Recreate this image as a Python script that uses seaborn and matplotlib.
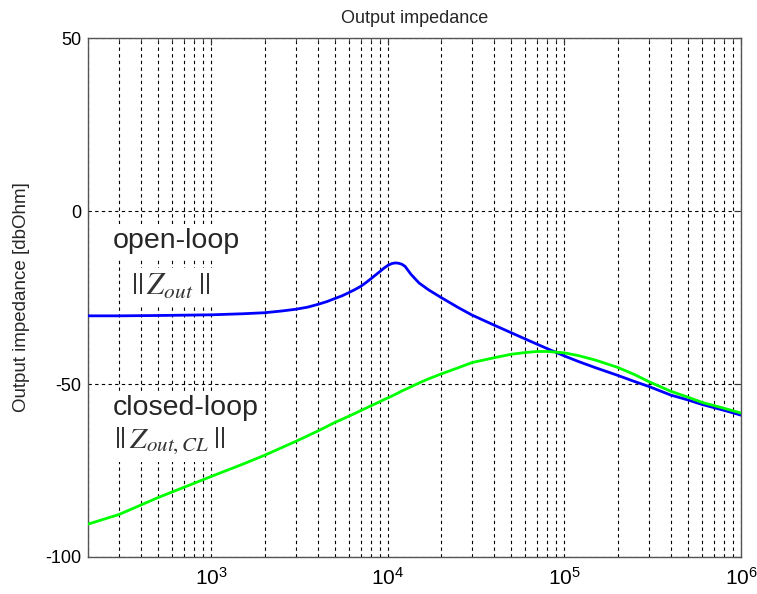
import numpy as np
import pandas as pd
import matplotlib
matplotlib.use('Agg')
import matplotlib.pyplot as plt
import matplotlib.ticker as mticker
import seaborn as sns

# frequency points (Hz)
freq = [200, 300, 500, 1000, 1500, 2000, 2500, 3000, 3500, 4000, 4500, 5000,
        5500, 6000, 6500, 7000, 7500, 8000, 8500, 9000, 9500, 10000, 10500,
        11000, 11500, 12000, 12500, 13500, 15000, 17000, 20000, 25000, 30000,
        40000, 50000, 60000, 70000, 80000, 100000, 120000, 150000, 200000,
        250000, 300000, 400000, 500000, 600000, 800000, 1000000]
open_loop = [-30.3, -30.3, -30.2, -30.0, -29.7, -29.4, -28.9, -28.4, -27.8, -27.0,
             -26.2, -25.3, -24.5, -23.6, -22.7, -21.8, -20.7, -19.6, -18.5, -17.5,
             -16.5, -15.7, -15.2, -15.0, -15.1, -15.4, -16.0, -18.3, -20.8, -22.8,
             -25.0, -27.9, -30.1, -33.0, -35.2, -37.0, -38.5, -39.8, -41.9, -43.5,
             -45.3, -47.5, -49.3, -50.7, -53.2, -54.6, -55.9, -57.6, -59.0]
closed_loop = [-90.5, -87.7, -82.8, -76.7, -73.2, -70.6, -68.4, -66.6, -65.0, -63.6,
               -62.3, -61.1, -60.2, -59.3, -58.5, -57.7, -57.0, -56.3, -55.7, -55.1,
               -54.5, -54.0, -53.5, -53.0, -52.5, -52.0, -51.6, -50.8, -49.7, -48.5,
               -47.1, -45.3, -43.8, -42.4, -41.4, -40.9, -40.6, -40.6, -41.0, -41.8,
               -43.1, -45.2, -47.3, -49.3, -52.1, -53.8, -55.3, -57.0, -58.4]

df = pd.DataFrame({'freq': freq, 'open': open_loop, 'closed': closed_loop})

sns.set_style('white')
plt.rcParams['font.family'] = ['Liberation Sans', 'DejaVu Sans']
plt.rcParams['mathtext.fontset'] = 'stix'
plt.rcParams['axes.unicode_minus'] = False

fig = plt.figure(figsize=(7.57, 5.94), dpi=100)
ax = fig.add_axes([0.1163, 0.0623, 0.8626, 0.8737])

sns.lineplot(data=df, x='freq', y='open', color='#0000ff', lw=2.0, ax=ax, zorder=5)
sns.lineplot(data=df, x='freq', y='closed', color='#00ff00', lw=2.0, ax=ax, zorder=5)

ax.set_xscale('log')
ax.set_xlim(200, 1e6)
ax.set_ylim(-100, 50)
ax.set_yticks([-100, -50, 0, 50])
ax.xaxis.set_major_locator(mticker.LogLocator(base=10, numticks=10))
ax.xaxis.set_minor_locator(mticker.LogLocator(base=10, subs=np.arange(2, 10), numticks=20))
ax.xaxis.set_minor_formatter(mticker.NullFormatter())

ax.grid(True, which='major', axis='both', color='black', ls=(0, (3, 3)), lw=0.8)
ax.grid(True, which='minor', axis='x', color='black', ls=(0, (3, 3)), lw=0.8)

ax.tick_params(axis='both', which='both', direction='in', top=True, right=True,
               colors='#333333', labelcolor='black')
ax.tick_params(axis='y', labelsize=13, pad=5)
ax.tick_params(axis='x', labelsize=15, pad=7)
ax.tick_params(axis='both', which='major', length=5)
ax.tick_params(axis='both', which='minor', length=3)
for s in ax.spines.values():
    s.set_color('#555555')
    s.set_linewidth(1.0)

ax.set_title('Output impedance', fontsize=13, pad=11)
ax.set_xlabel('')
ax.set_ylabel('Output impedance [dbOhm]', fontsize=13.5, labelpad=11)

box = dict(facecolor='white', edgecolor='none', pad=3)
ax.text(0.038, 0.609, 'open-loop', transform=ax.transAxes, fontsize=20.5,
        va='center', ha='left', bbox=box, zorder=4)
ax.text(0.066, 0.52, r'$||\,Z_{out}\;||$', transform=ax.transAxes, fontsize=22,
        va='center', ha='left', color='#333333', bbox=box, zorder=4)
ax.text(0.038, 0.287, 'closed-loop', transform=ax.transAxes, fontsize=20.5,
        va='center', ha='left', bbox=box, zorder=4)
ax.text(0.040, 0.222, r'$||\,Z_{out,CL}\;||$', transform=ax.transAxes, fontsize=21.5,
        va='center', ha='left', color='#333333', bbox=box, zorder=4)

fig.savefig('out.png', dpi=100)
